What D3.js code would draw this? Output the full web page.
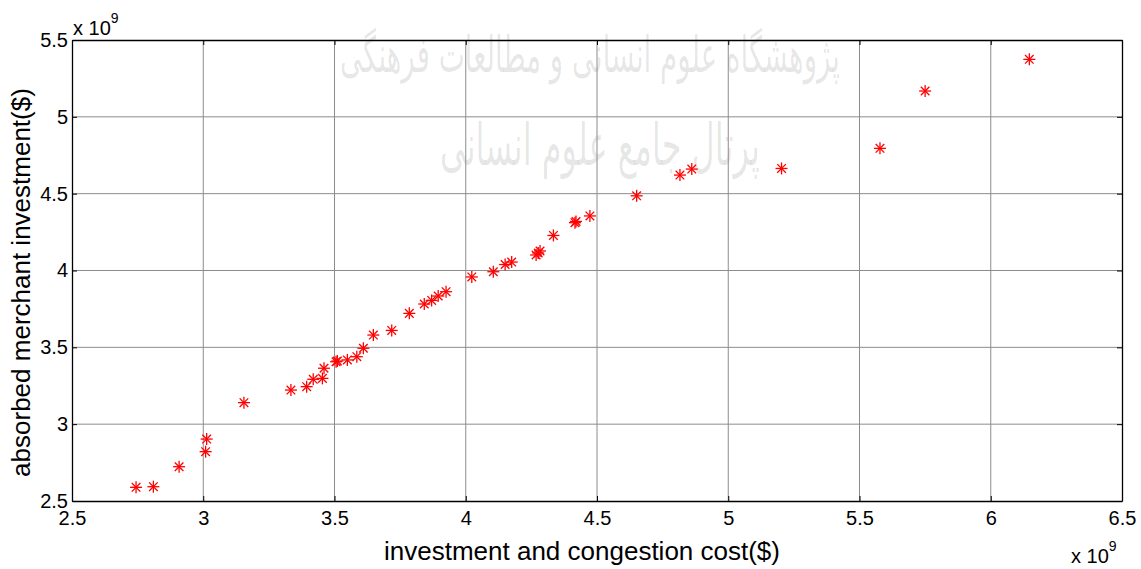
<!DOCTYPE html>
<html>
<head>
<meta charset="utf-8">
<script src="https://cdn.jsdelivr.net/npm/d3@7"></script>
<style>
  body { margin: 0; background: #fff; }
  text { font-family: "Liberation Sans", Arial, sans-serif; }
</style>
</head>
<body>
<div id="chart"></div>
<script>
// data, in units of 10^9 $
var cost = [2.744, 2.810, 2.908, 3.009, 3.013, 3.155, 3.334, 3.394, 3.419, 3.454,
            3.460, 3.506, 3.511, 3.549, 3.585, 3.610, 3.648, 3.718, 3.785, 3.842,
            3.870, 3.895, 3.925, 4.023, 4.105, 4.150, 4.175, 4.268, 4.276, 4.283,
            4.334, 4.416, 4.420, 4.473, 4.651, 4.816, 4.861, 5.203, 5.578, 5.750, 6.147];
var absorbed = [2.589, 2.593, 2.723, 2.821, 2.903, 3.140, 3.222, 3.244, 3.292, 3.298,
                3.364, 3.406, 3.411, 3.418, 3.439, 3.494, 3.580, 3.610, 3.721, 3.782,
                3.805, 3.834, 3.862, 3.958, 3.992, 4.039, 4.055, 4.101, 4.114, 4.127,
                4.228, 4.311, 4.319, 4.355, 4.486, 4.621, 4.660, 4.664, 4.795, 5.168, 5.374];
var xTicks = [2.5, 3, 3.5, 4, 4.5, 5, 5.5, 6, 6.5];
var yTicks = [2.5, 3, 3.5, 4, 4.5, 5, 5.5];
var xLabel = "investment and congestion cost($)";
var yLabel = "absorbed merchant investment($)";
var watermark = ["پژوهشگاه علوم انسانی و مطالعات فرهنگی", "پرتال جامع علوم انسانی"];

// set the dimensions and margins of the graph
var margin = {top: 40, right: 19, bottom: 68, left: 72},
    width = 1141 - margin.left - margin.right,
    height = 569 - margin.top - margin.bottom;

var x = d3.scaleLinear().domain([2.5, 6.5]).range([0, width]);
var y = d3.scaleLinear().domain([2.5, 5.5]).range([height, 0]);

var root = d3.select("#chart").append("svg")
    .attr("width", 1141)
    .attr("height", 569);

// faint watermark behind the plot
root.append("text")
    .attr("x", 590).attr("y", 72)
    .attr("text-anchor", "middle")
    .style("font-family", "DejaVu Sans")
    .style("font-size", "50px")
    .attr("fill", "#000").attr("fill-opacity", 0.1)
    .attr("textLength", 500).attr("lengthAdjust", "spacingAndGlyphs")
    .text(watermark[0]);
root.append("text")
    .attr("x", 600).attr("y", 165)
    .attr("text-anchor", "middle")
    .style("font-family", "DejaVu Sans")
    .style("font-size", "58px")
    .attr("fill", "#000").attr("fill-opacity", 0.1)
    .attr("textLength", 320).attr("lengthAdjust", "spacingAndGlyphs")
    .text(watermark[1]);

var svg = root.append("g")
    .attr("transform", "translate(" + margin.left + "," + margin.top + ")");

// grid lines
svg.append("g").selectAll("line").data(xTicks.slice(1, -1)).enter().append("line")
    .attr("x1", function(d) { return x(d); }).attr("x2", function(d) { return x(d); })
    .attr("y1", 0).attr("y2", height)
    .attr("stroke", "#8c8c8c").attr("stroke-width", 1);
svg.append("g").selectAll("line").data(yTicks.slice(1, -1)).enter().append("line")
    .attr("y1", function(d) { return y(d); }).attr("y2", function(d) { return y(d); })
    .attr("x1", 0).attr("x2", width)
    .attr("stroke", "#8c8c8c").attr("stroke-width", 1);

// axes, ticks pointing inwards like matlab
var fmt = function(d) { return d3.format("")(d); };
svg.append("g")
    .attr("transform", "translate(0," + height + ")")
    .call(d3.axisBottom(x).tickValues(xTicks).tickSizeInner(-5).tickSizeOuter(0).tickPadding(10).tickFormat(fmt));
svg.append("g")
    .call(d3.axisTop(x).tickValues(xTicks).tickSizeInner(-5).tickSizeOuter(0).tickFormat(""));
svg.append("g")
    .call(d3.axisLeft(y).tickValues(yTicks).tickSizeInner(-5).tickSizeOuter(0).tickPadding(4).tickFormat(fmt));
svg.append("g")
    .attr("transform", "translate(" + width + ",0)")
    .call(d3.axisRight(y).tickValues(yTicks).tickSizeInner(-5).tickSizeOuter(0).tickFormat(""));

svg.selectAll(".domain").attr("stroke", "#000").attr("stroke-width", 1.3);
svg.selectAll(".tick line").attr("stroke", "#000");
svg.selectAll(".tick text").style("font-size", "20px").attr("fill", "#000")
    .style("font-family", "'Liberation Sans', Arial, sans-serif");

// star markers
var r = 6, rd = 4.3;
var stars = svg.append("g").selectAll("g").data(cost).enter().append("g")
    .attr("transform", function(d, i) { return "translate(" + x(d) + "," + y(absorbed[i]) + ")"; })
    .attr("stroke", "#ff0000").attr("stroke-width", 1.3);
stars.append("line").attr("x1", -r).attr("x2", r).attr("y1", 0).attr("y2", 0);
stars.append("line").attr("x1", 0).attr("x2", 0).attr("y1", -r).attr("y2", r);
stars.append("line").attr("x1", -rd).attr("x2", rd).attr("y1", -rd).attr("y2", rd);
stars.append("line").attr("x1", -rd).attr("x2", rd).attr("y1", rd).attr("y2", -rd);

// axis labels
svg.append("text")
    .attr("x", width / 2 - 15).attr("y", height + 59)
    .attr("text-anchor", "middle")
    .style("font-size", "26px")
    .text(xLabel);
svg.append("text")
    .attr("transform", "rotate(-90)")
    .attr("x", -(height / 2) - 12).attr("y", -42)
    .attr("text-anchor", "middle")
    .style("font-size", "26px")
    .text(yLabel);

// exponent labels
var e1 = root.append("text").attr("x", 73).attr("y", 35).style("font-size", "20px");
e1.append("tspan").text("x 10");
e1.append("tspan").attr("dy", -12).style("font-size", "14px").text("9");
var e2 = root.append("text").attr("x", 1071).attr("y", 563).style("font-size", "20px");
e2.append("tspan").text("x 10");
e2.append("tspan").attr("dy", -12).style("font-size", "14px").text("9");
</script>
</body>
</html>
